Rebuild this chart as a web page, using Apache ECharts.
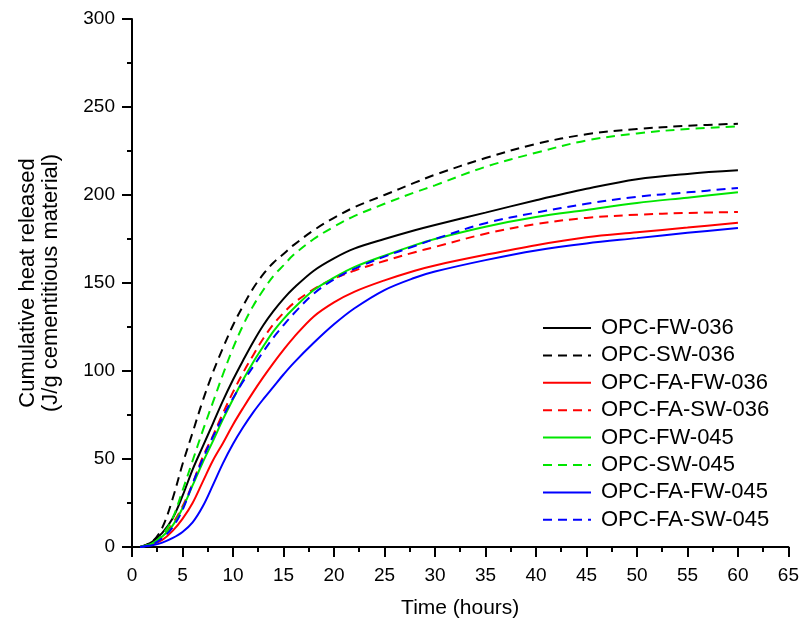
<!DOCTYPE html>
<html>
<head>
<meta charset="utf-8">
<script src="https://cdn.jsdelivr.net/npm/echarts@6/dist/echarts.min.js"></script>
<style>html,body{margin:0;padding:0;background:#fff}#c{width:802px;height:631px}</style>
</head>
<body>
<div id="c"></div>
<script>
var times = [0.8, 2, 3, 4, 5, 6, 7, 8, 9, 10, 11, 12, 13, 14, 15, 16, 18, 20, 22, 25, 28, 30, 35, 40, 45, 50, 55, 60];

var opcFw036   = [0, 3, 8, 16, 29, 44, 57, 70, 83, 95, 106, 116.5, 126, 134, 141, 147, 157, 164, 169.5, 175, 180, 183, 190, 197, 203.5, 209, 212, 214];
var opcSw036   = [0, 3, 11, 27, 47, 65, 83, 99, 113, 126, 137, 147, 155, 161.5, 166.5, 171.5, 180, 187, 193, 200, 207, 211.5, 221, 229, 234.5, 237.5, 239.3, 240.5];
var opcFaFw036 = [0, 1.5, 4, 9, 16, 25, 37, 49, 59, 69.5, 79, 88, 96.5, 104.5, 112, 119, 131, 139, 145, 151.5, 157, 160, 166, 171.5, 176, 178.8, 181.5, 184.3];
var opcFaSw036 = [0, 2, 6, 13, 23, 36, 51, 63, 76, 88, 99, 109, 118.5, 126.5, 133, 138.5, 146.5, 152.5, 157, 162.5, 167.5, 170.5, 178, 183.5, 187, 188.8, 189.8, 190.3];
var opcFw045   = [0, 2, 6, 12, 22, 35, 48, 60, 72.5, 84, 95, 105, 114, 122.5, 129.5, 135.5, 146, 153, 159, 165.5, 171.5, 175, 182, 187.5, 191.5, 195.5, 198.5, 201.5];
var opcSw045   = [0, 2, 7, 16, 32, 49, 66, 82, 98, 113, 126, 137, 146, 154, 160, 166, 175, 182, 188, 195, 201.5, 205.5, 216, 224, 231, 235, 237.5, 239];
var opcFaFw045 = [0, 1, 2.5, 5, 8.5, 14, 23, 35, 47.5, 58.5, 68, 76.5, 84, 91, 98, 104.5, 116, 126.5, 135.5, 146, 153, 156.5, 163, 168.5, 172.5, 175.5, 178.5, 181.3];
var opcFaSw045 = [0, 1.5, 5, 11, 21, 36, 50, 62.5, 74, 84.5, 94, 102.5, 111, 119, 126, 132.5, 144, 152, 158, 165, 171, 175, 184, 190, 195, 199, 201.5, 204];

var xTicks = [0, 65, 5];
var yTicks = [0, 300, 50];

var seriesDefs = [
  {name: 'OPC-FW-036',    data: opcFw036,   color: '#000000', dash: 'solid'},
  {name: 'OPC-SW-036',    data: opcSw036,   color: '#000000', dash: 'dashed'},
  {name: 'OPC-FA-FW-036', data: opcFaFw036, color: '#ff0000', dash: 'solid'},
  {name: 'OPC-FA-SW-036', data: opcFaSw036, color: '#ff0000', dash: 'dashed'},
  {name: 'OPC-FW-045',    data: opcFw045,   color: '#00e600', dash: 'solid'},
  {name: 'OPC-SW-045',    data: opcSw045,   color: '#00e600', dash: 'dashed'},
  {name: 'OPC-FA-FW-045', data: opcFaFw045, color: '#0000ff', dash: 'solid'},
  {name: 'OPC-FA-SW-045', data: opcFaSw045, color: '#0000ff', dash: 'dashed'}
];

var FONT = 'Liberation Sans, Arial, sans-serif';

var series = seriesDefs.map(function (s) {
  return {
    name: s.name,
    type: 'line',
    data: times.map(function (t, i) { return [t, s.data[i]]; }),
    symbol: 'none',
    showSymbol: false,
    smooth: 0.35,
    color: s.color,
    itemStyle: {color: s.color},
    lineStyle: {color: s.color, width: 2, type: s.dash === 'dashed' ? [9, 6] : 'solid'},
    emphasis: {disabled: true},
    animation: false
  };
});

var axisCommon = {
  axisLine: {show: true, onZero: false, lineStyle: {color: '#000', width: 2}},
  axisTick: {show: true, inside: false, length: 10, lineStyle: {color: '#000', width: 2}},
  minorTick: {show: true, splitNumber: 2, length: 5, lineStyle: {color: '#000', width: 2}},
  splitLine: {show: false},
  nameLocation: 'middle'
};

var chart = echarts.init(document.getElementById('c'), null, {renderer: 'canvas'});
chart.setOption({
  animation: false,
  backgroundColor: '#fff',
  grid: {left: 132, right: 10, top: 19, bottom: 84, containLabel: false},
  xAxis: Object.assign({}, axisCommon, {
    type: 'value', min: xTicks[0], max: xTicks[1], interval: xTicks[2],
    name: 'Time (hours)', nameGap: 50,
    nameTextStyle: {fontFamily: FONT, fontSize: 21, color: '#000', lineHeight: 23},
    axisLabel: {fontFamily: FONT, fontSize: 19, color: '#000', margin: 19}
  }),
  yAxis: Object.assign({}, axisCommon, {
    type: 'value', min: yTicks[0], max: yTicks[1], interval: yTicks[2],
    name: 'Cumulative heat released\n(J/g cementitious material)', nameGap: 70,
    nameTextStyle: {fontFamily: FONT, fontSize: 22, color: '#000', lineHeight: 23},
    axisLabel: {fontFamily: FONT, fontSize: 19, color: '#000', margin: 17}
  }),
  legend: {
    show: true,
    orient: 'vertical', left: 537, top: 312,
    itemWidth: 48, itemHeight: 14, itemGap: 5.4,
    itemStyle: {opacity: 0},
    textStyle: {fontFamily: FONT, fontSize: 22, color: '#000', lineHeight: 22, padding: [0, 0, 0, 5]},
    data: seriesDefs.map(function (s) { return s.name; })
  },
  series: series
});
</script>
</body>
</html>
